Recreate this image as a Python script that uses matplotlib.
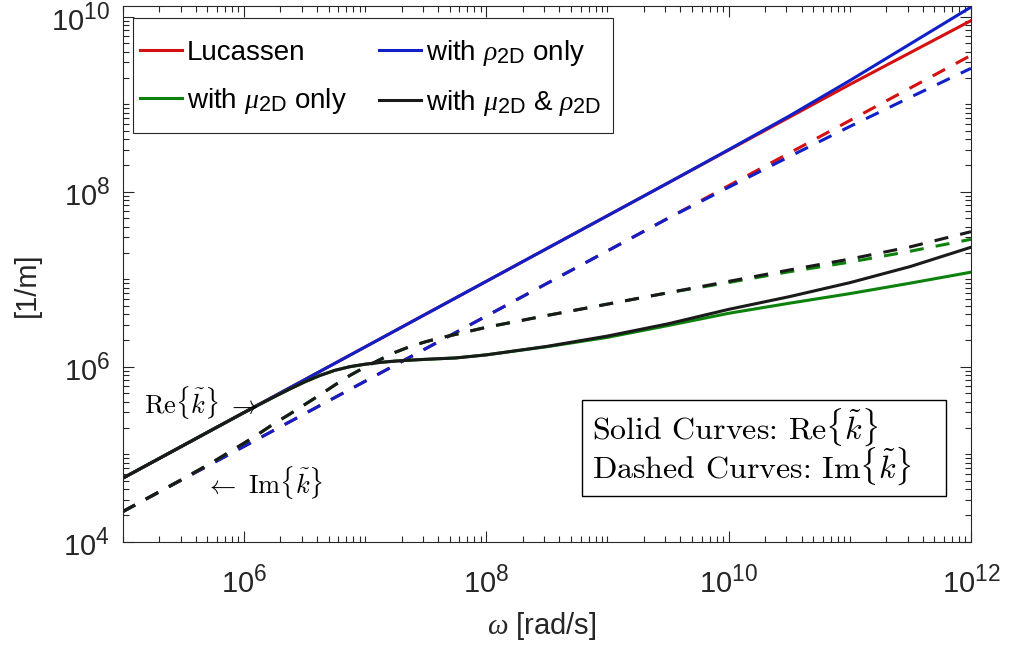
import numpy as np
import matplotlib
matplotlib.use("Agg")
import matplotlib.pyplot as plt
import matplotlib._mathtext as _mt
from matplotlib.ticker import LogLocator, FixedLocator, LogFormatterSciNotation, NullFormatter
from matplotlib.patches import Rectangle
from matplotlib.lines import Line2D

# ---- data: log10 of angular frequency and log10 of wavenumber components ----
log_omega_coarse = [5.0, 5.5, 6.0, 6.5, 7.0, 7.5, 8.0, 8.5, 9.0, 9.5,
                    10.0, 10.5, 11.0, 11.5, 12.0]

# Lucassen (no surface viscosity, no surface density)
log_re_lucassen = [4.725, 5.10, 5.475, 5.85, 6.225, 6.60, 6.975, 7.35, 7.725,
                   8.10, 8.475, 8.85, 9.225, 9.59, 9.955]
log_im_lucassen = [4.343, 4.716, 5.088, 5.461, 5.833, 6.206, 6.578, 6.951,
                   7.323, 7.696, 8.068, 8.441, 8.813, 9.186, 9.558]

# with rho_2D only
log_re_rho = [4.725, 5.10, 5.475, 5.85, 6.225, 6.60, 6.975, 7.35, 7.725,
              8.10, 8.48, 8.865, 9.27, 9.69, 10.11]
log_im_rho = [4.343, 4.716, 5.088, 5.461, 5.833, 6.206, 6.578, 6.951,
              7.323, 7.696, 8.05, 8.40, 8.745, 9.08, 9.41]

log_omega_fine = [5.0, 5.5, 5.75, 6.0, 6.125, 6.25, 6.375, 6.5, 6.625, 6.75,
                  6.875, 7.0, 7.125, 7.25, 7.375, 7.5, 7.625, 7.75, 8.0,
                  8.5, 9.0, 9.5, 10.0, 10.5, 11.0, 11.5, 12.0]

# with mu_2D only
log_re_mu = [4.725, 5.10, 5.288, 5.475, 5.566, 5.655, 5.742, 5.825, 5.898, 5.958,
             6.0, 6.028, 6.049, 6.064, 6.075, 6.084, 6.092, 6.10, 6.135,
             6.228, 6.335, 6.47, 6.61, 6.725, 6.835, 6.955, 7.08]
log_im_mu = [4.343, 4.72, 4.915, 5.125, 5.235, 5.35, 5.455, 5.565, 5.675, 5.79,
             5.90, 5.995, 6.082, 6.165, 6.232, 6.285, 6.33, 6.37, 6.45,
             6.585, 6.715, 6.845, 6.962, 7.085, 7.195, 7.32, 7.456]

# with mu_2D and rho_2D
log_re_both = [4.725, 5.10, 5.288, 5.475, 5.566, 5.655, 5.742, 5.825, 5.898, 5.958,
               6.0, 6.028, 6.049, 6.064, 6.075, 6.084, 6.092, 6.10, 6.135,
               6.232, 6.35, 6.49, 6.655, 6.80, 6.96, 7.145, 7.365]
log_im_both = [4.343, 4.72, 4.915, 5.125, 5.235, 5.35, 5.455, 5.565, 5.675, 5.79,
               5.90, 5.995, 6.082, 6.165, 6.232, 6.285, 6.33, 6.37, 6.45,
               6.585, 6.715, 6.845, 6.975, 7.105, 7.23, 7.37, 7.543]

labels = ["Lucassen", r"with $\rho_{\mathrm{2D}}$ only",
          r"with $\mu_{\mathrm{2D}}$ only",
          r"with $\mu_{\mathrm{2D}}$ & $\rho_{\mathrm{2D}}$"]
colors = ["#d41010", "#1020c8", "#0c820c", "#1a1a1a"]

x_major = [1e6, 1e8, 1e10, 1e12]
y_major = [1e4, 1e6, 1e8, 1e10]

# ---- style ----
# larger sub/superscripts, closer to TeX-interpreter output
_mt.SHRINK_FACTOR = 0.78
plt.rcParams["font.family"] = ["Liberation Sans", "DejaVu Sans"]
plt.rcParams["mathtext.fontset"] = "custom"
plt.rcParams["mathtext.rm"] = "Liberation Sans"
plt.rcParams["mathtext.it"] = "Liberation Serif:italic"
plt.rcParams["mathtext.bf"] = "Liberation Sans:bold"
plt.rcParams["text.color"] = "#262626"

fig = plt.figure(figsize=(10.09, 6.45), dpi=100)
ax = fig.add_axes([0.1216, 0.1602, 0.8407, 0.8298])

w_c = 10.0 ** np.array(log_omega_coarse)
w_f = 10.0 ** np.array(log_omega_fine)

lw = 2.2
dash = (0, (4.6, 4.0))
series = [
    (w_c, log_re_lucassen, log_im_lucassen, colors[0]),
    (w_c, log_re_rho, log_im_rho, colors[1]),
    (w_f, log_re_mu, log_im_mu, colors[2]),
    (w_f, log_re_both, log_im_both, colors[3]),
]
for w, re, im, c in series:
    ax.plot(w, 10.0 ** np.array(re), color=c, lw=lw, solid_joinstyle="round")
    ax.plot(w, 10.0 ** np.array(im), color=c, lw=lw, linestyle=dash)

ax.set_xscale("log")
ax.set_yscale("log")
ax.set_xlim(1e5, 1e12)
ax.set_ylim(1e4, 1.31e10)

ax.xaxis.set_major_locator(FixedLocator(x_major))
ax.yaxis.set_major_locator(FixedLocator(y_major))
ax.xaxis.set_major_formatter(LogFormatterSciNotation())
ax.yaxis.set_major_formatter(LogFormatterSciNotation())
ax.xaxis.set_minor_locator(LogLocator(base=10.0, subs=np.arange(1, 10), numticks=100))
ax.yaxis.set_minor_locator(LogLocator(base=10.0, subs=np.arange(1, 10), numticks=100))
ax.xaxis.set_minor_formatter(NullFormatter())
ax.yaxis.set_minor_formatter(NullFormatter())

ax.tick_params(which="both", direction="in", top=True, right=True,
               color="#262626", width=0.8, labelcolor="#262626")
ax.tick_params(which="major", length=8, labelsize=21)
ax.tick_params(which="minor", length=4.5)
ax.tick_params(axis="x", which="major", pad=17)
ax.tick_params(axis="y", which="major", pad=9)
for s in ax.spines.values():
    s.set_color("#262626")
    s.set_linewidth(0.8)

ax.set_xlabel(r"$\omega$ [rad/s]", fontsize=21, color="#262626")
ax.set_ylabel("[1/m]", fontsize=21, color="#262626")
ax.xaxis.set_label_coords(0.494, -0.127)
ax.yaxis.set_label_coords(-0.097, 0.48)

# legend frame, then the legend entries (filled row by row: Lucassen | rho ; mu | both)
ax.add_patch(Rectangle((0.0118, 0.7636), 0.5662, 0.2144, transform=ax.transAxes,
                       facecolor="white", edgecolor="#262626", lw=0.8, zorder=4))
handles = [Line2D([], [], color=c, lw=lw) for c in colors]
order = [0, 2, 1, 3]
leg = ax.legend([handles[i] for i in order], [labels[i] for i in order],
                ncol=2, loc="upper left", bbox_to_anchor=(0.0204, 0.941),
                borderaxespad=0.0, fontsize=20, frameon=False,
                handlelength=1.5, handletextpad=0.2, columnspacing=1.15,
                labelspacing=0.72, borderpad=0.0)
leg.set_zorder(6)
for t in leg.get_texts():
    t.set_color("black")

# curve annotations
ax.text(0.025, 0.259, r"$\mathrm{Re}\{\tilde{k}\}\ \rightarrow$", transform=ax.transAxes,
        fontsize=19, color="black", ha="left", va="center", math_fontfamily="cm")
ax.text(0.097, 0.110, r"$\leftarrow\ \mathrm{Im}\{\tilde{k}\}$", transform=ax.transAxes,
        fontsize=19, color="black", ha="left", va="center", math_fontfamily="cm")

# key box for solid / dashed meaning
ax.add_patch(Rectangle((0.542, 0.085), 0.429, 0.180, transform=ax.transAxes,
                       facecolor="white", edgecolor="black", lw=1.0, zorder=5))
ax.text(0.553, 0.178,
        "Solid Curves: Re$\\{\\tilde{k}\\}$\nDashed Curves: Im$\\{\\tilde{k}\\}$",
        transform=ax.transAxes, fontsize=23, color="black", ha="left",
        va="center", family="cmr10", math_fontfamily="cm", linespacing=0.93,
        zorder=6)

fig.savefig("out.png", dpi=100)
